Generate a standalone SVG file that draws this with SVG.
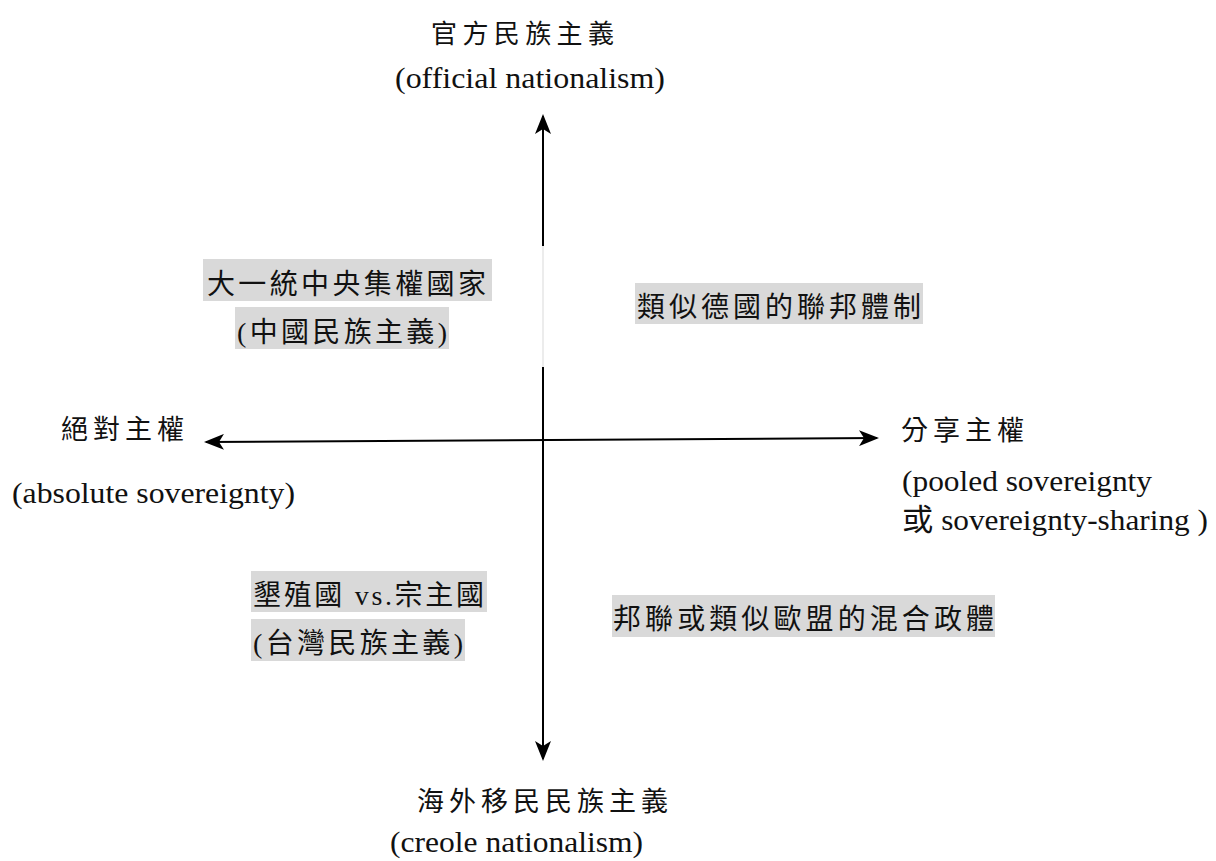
<svg xmlns="http://www.w3.org/2000/svg" width="1216" height="861" viewBox="0 0 1216 861">
<style>
  .cjk { font-family: "Liberation Serif", "Times New Roman", "DejaVu Serif", "Noto Sans CJK TC", serif; fill: #111; }
  .lat { font-family: "Liberation Serif", "Times New Roman", "DejaVu Serif", "Noto Sans CJK TC", serif; fill: #111; font-size: 30px; }
  .box { fill: #d9d9d9; }
  .axis { stroke: #000; stroke-width: 2; fill: none; }
</style>
<defs>
  <marker id="ah" viewBox="0 0 20 16" refX="18" refY="8" markerWidth="20" markerHeight="16" markerUnits="userSpaceOnUse" orient="auto-start-reverse">
    <path d="M0,0 L20,8 L0,16 L5,8 z" fill="#000"/>
  </marker>
</defs>
<rect width="1216" height="861" fill="#fff"/>

<g id="connectors">
  <line x1="543" y1="246" x2="543" y2="367" stroke="#e6e6e6" stroke-width="1.5"/>
  <line class="axis" x1="543" y1="246" x2="543" y2="116" marker-end="url(#ah)"/>
  <line class="axis" x1="543" y1="367" x2="543" y2="759" marker-end="url(#ah)"/>
  <line class="axis" x1="206" y1="442" x2="877" y2="438" marker-start="url(#ah)" marker-end="url(#ah)"/>
</g>

<g id="node-top">
  <text class="cjk" x="431" y="43" font-size="26" textLength="183" lengthAdjust="spacing">官方民族主義</text>
  <text class="lat" x="395" y="88" textLength="270" lengthAdjust="spacingAndGlyphs">(official nationalism)</text>
</g>

<g id="node-bottom">
  <text class="cjk" x="417" y="811" font-size="27" textLength="251" lengthAdjust="spacing">海外移民民族主義</text>
  <text class="lat" x="390" y="852" textLength="253" lengthAdjust="spacingAndGlyphs">(creole nationalism)</text>
</g>

<g id="node-left">
  <text class="cjk" x="61" y="439" font-size="27" textLength="123" lengthAdjust="spacing">絕對主權</text>
  <text class="lat" x="12" y="503" textLength="283" lengthAdjust="spacingAndGlyphs">(absolute sovereignty)</text>
</g>

<g id="node-right">
  <text class="cjk" x="901" y="440" font-size="27" textLength="123" lengthAdjust="spacing">分享主權</text>
  <text class="lat" x="902" y="491" textLength="250" lengthAdjust="spacingAndGlyphs">(pooled sovereignty</text>
  <text class="lat" x="902" y="530" textLength="306" lengthAdjust="spacingAndGlyphs">或 sovereignty-sharing )</text>
</g>

<g id="node-q2">
  <rect class="box" x="203" y="259" width="289" height="42"/>
  <text class="cjk" x="207" y="294" font-size="28" textLength="279" lengthAdjust="spacing">大一統中央集權國家</text>
  <rect class="box" x="235" y="307" width="214" height="42"/>
  <text class="cjk" x="237" y="342" font-size="28" textLength="210" lengthAdjust="spacing">(中國民族主義)</text>
</g>

<g id="node-q1">
  <rect class="box" x="635" y="283" width="288" height="41"/>
  <text class="cjk" x="637" y="317" font-size="28" textLength="284" lengthAdjust="spacing">類似德國的聯邦體制</text>
</g>

<g id="node-q3">
  <rect class="box" x="251" y="571" width="236" height="41"/>
  <text class="cjk" x="253" y="605" font-size="28" textLength="231" lengthAdjust="spacing">墾殖國 vs.宗主國</text>
  <rect class="box" x="251" y="619" width="214" height="42"/>
  <text class="cjk" x="253" y="653" font-size="28" textLength="210" lengthAdjust="spacing">(台灣民族主義)</text>
</g>

<g id="node-q4">
  <rect class="box" x="612" y="595" width="383" height="42"/>
  <text class="cjk" x="613" y="629" font-size="28" textLength="381" lengthAdjust="spacing">邦聯或類似歐盟的混合政體</text>
</g>
</svg>
